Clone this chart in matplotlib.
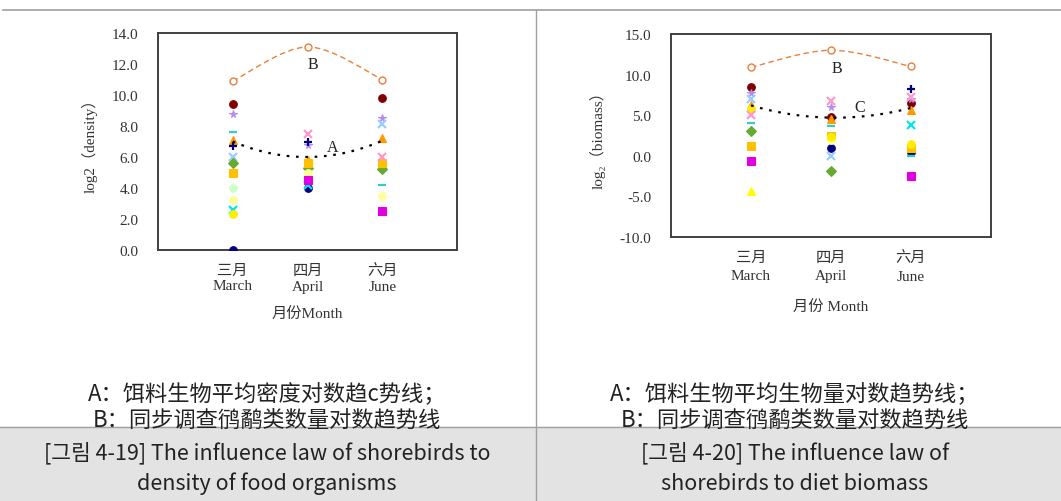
import numpy as np
import matplotlib.pyplot as plt
from matplotlib.lines import Line2D
from matplotlib.path import Path
from matplotlib.patches import PathPatch

# --- Data ---
MONTH_POS = [1, 2, 3]
MONTH_LABELS = ['三月\nMarch', '四月\nApril', '六月\nJune']

# shorebird counts (log2), line B
BIRDS_LEFT = [10.9, 13.1, 11.0]
BIRDS_RIGHT = [10.9, 13.0, 11.0]

# food organism trend lines (log2 of mean)
TREND_A = [7.0, 6.0, 7.05]
TREND_C = [6.2, 4.7, 5.9]

# species markers: (colour, marker)
SPECIES_STYLE = [
    ('#000080', 'o'),
    ('#800000', 'o'),
    ('#B48CF0', '*'),
    ('#33CCCC', '_'),
    ('#FF9900', '^'),
    ('#000080', '+'),
    ('#99CCFF', 'x'),
    ('#66AA33', 'D'),
    ('#FFC000', 's'),
    ('#CCFFCC', 'o'),
    ('#FFFF99', 'o'),
    ('#00E5EE', 'x'),
    ('#FFEE00', 'o'),
    ('#E000E0', 's'),
    ('#FF99CC', 'x'),
    ('#FFFF00', '^'),
]

# log2(density) per species, March / April / June (None = absent)
DENSITY = [
    [0.0, 4.0, None],
    [9.4, None, 9.8],
    [8.8, 6.8, 8.5],
    [7.6, None, 4.2],
    [7.1, 5.8, 7.2],
    [6.7, 7.0, None],
    [6.0, None, 8.1],
    [5.6, 5.3, 5.2],
    [5.0, 5.6, 5.6],
    [4.0, None, None],
    [3.2, 5.0, 3.5],
    [2.6, 4.2, None],
    [2.3, None, None],
    [None, 4.5, 2.5],
    [None, 7.5, 6.0],
    [None, None, None],
]

# log2(biomass) per species
BIOMASS = [
    [None, 1.0, 0.5],
    [8.5, 4.8, 6.5],
    [7.7, 6.0, 7.0],
    [4.0, 3.7, 0.0],
    [6.3, 4.5, 5.7],
    [None, None, 8.2],
    [7.0, 0.0, None],
    [3.0, -1.9, None],
    [1.2, 2.5, 1.0],
    [None, None, None],
    [None, 2.0, None],
    [None, None, 3.8],
    [5.8, 2.3, 1.5],
    [-0.7, None, -2.5],
    [5.0, 6.8, 7.2],
    [-4.3, None, None],
]

SERIF = ['Liberation Serif', 'DejaVu Serif', 'Noto Sans CJK SC']
CJK = ['Noto Sans CJK SC', 'DejaVu Sans']
KR = ['Noto Sans CJK KR', 'DejaVu Sans']
ORANGE = '#E8803A'


def smooth_path(xs, ys):
    # Excel-style smoothed line: cubic Bezier segments through the points
    pts = np.column_stack([xs, ys]).astype(float)
    ext = np.vstack([pts[0], pts, pts[-1]])
    verts = [tuple(pts[0])]
    codes = [Path.MOVETO]
    for i in range(1, len(ext) - 2):
        p0, p1, p2, p3 = ext[i - 1], ext[i], ext[i + 1], ext[i + 2]
        verts += [tuple(p1 + (p2 - p0) / 6), tuple(p2 - (p3 - p1) / 6), tuple(p2)]
        codes += [Path.CURVE4] * 3
    return Path(verts, codes)


def draw_panel(ax, values, birds, trend, trend_label, trend_xy, b_xy, ylim, yticks, ylabel, xlabel,
               tick_spacing=1.25, xlabelpad=10):
    for (color, marker), vals in zip(SPECIES_STYLE, values):
        for xp, v in zip(MONTH_POS, vals):
            if v is None:
                continue
            ax.plot(xp, v, marker=marker, color=color, markersize=5.5,
                    markeredgewidth=1.6 if marker in 'x+_' else 0.8, linestyle='none', zorder=3)

    ax.add_patch(PathPatch(smooth_path(MONTH_POS, birds), fill=False, edgecolor=ORANGE,
                           linestyle=(0, (4, 2.5)), linewidth=1.0, zorder=2))
    ax.plot(MONTH_POS, birds, 'o', mfc='white', mec=ORANGE, markersize=5, mew=1.0, zorder=4)

    xf = np.linspace(1, 3, 60)
    ct = np.polyfit(MONTH_POS, trend, 2)
    ax.plot(xf, np.polyval(ct, xf), color='black', linestyle=(0, (1.2, 3)), linewidth=1.6, zorder=5)

    ax.text(*b_xy, 'B', family=SERIF, fontsize=11.5, ha='center', va='center', color='#222')
    ax.text(*trend_xy, trend_label, family=SERIF, fontsize=11.5, ha='center', va='center', color='#222')

    ax.set_xlim(0, 4)
    ax.set_ylim(*ylim)
    ax.set_yticks(yticks)
    ax.set_yticklabels([f'{t:.1f}' for t in yticks], family=SERIF, fontsize=11, color='#333')
    ax.set_xticks(MONTH_POS)
    ax.set_xticklabels(MONTH_LABELS, family=SERIF, fontsize=11, color='#333', linespacing=tick_spacing)
    ax.tick_params(axis='y', length=0, pad=14)
    ax.tick_params(axis='x', length=0, pad=10)
    for s in ax.spines.values():
        s.set_color('#404040')
        s.set_linewidth(1.4)
    ax.set_ylabel(ylabel, family=SERIF, fontsize=11, color='#333', labelpad=10)
    ax.set_xlabel(xlabel, family=SERIF, fontsize=11, color='#333', labelpad=xlabelpad)


W, H = 1061, 502
fig = plt.figure(figsize=(W / 100, H / 100), dpi=100)


def px_axes(x0, y0, x1, y1):
    return fig.add_axes([x0 / W, 1 - y1 / H, (x1 - x0) / W, (y1 - y0) / H])


ax1 = px_axes(158, 34, 457, 251)
draw_panel(ax1, DENSITY, BIRDS_LEFT, TREND_A, 'A', (2.33, 6.65), (2.07, 12.0),
           (0, 14), np.arange(0, 14.1, 2.0), 'log2（density）', '月份Month')

ax2 = px_axes(671, 35, 991, 238)
draw_panel(ax2, BIOMASS, BIRDS_RIGHT, TREND_C, 'C', (2.36, 6.0), (2.07, 10.8),
           (-10, 15), np.arange(-10, 15.1, 5.0), 'log₂（biomass）', '月份 Month',
           tick_spacing=1.5, xlabelpad=12)

# --- frame lines and caption band ---
band = plt.Rectangle((0, 0), 1, 1 - 428 / H, transform=fig.transFigure, color='#E3E3E3', zorder=0)
fig.patches.append(band)
fig.add_artist(Line2D([3 / W, 1], [1 - 11 / H] * 2, color='#A0A0A0', lw=1.2))
fig.add_artist(Line2D([0, 1], [1 - 428 / H] * 2, color='#A0A0A0', lw=1.0))
fig.add_artist(Line2D([536 / W] * 2, [0, 1 - 11 / H], color='#A0A0A0', lw=1.0))

captions = [
    (267, ['A：饵料生物平均密度对数趋c势线；', 'B：同步调查鸻鹬类数量对数趋势线'],
     ['[그림 4-19] The influence law of shorebirds to', 'density of food organisms']),
    (795, ['A：饵料生物平均生物量对数趋势线；', 'B：同步调查鸻鹬类数量对数趋势线'],
     ['[그림 4-20] The influence law of', 'shorebirds to diet biomass']),
]
for cx, zh, en in captions:
    for y, t in zip([395, 420], zh):
        fig.text(cx / W, 1 - y / H, t, family=CJK, fontsize=16, ha='center', va='center', color='#222')
    for y, t in zip([453, 484], en):
        fig.text(cx / W, 1 - y / H, t, family=KR, fontsize=15.5, ha='center', va='center', color='#222')

plt.savefig('out.png', dpi=100)
